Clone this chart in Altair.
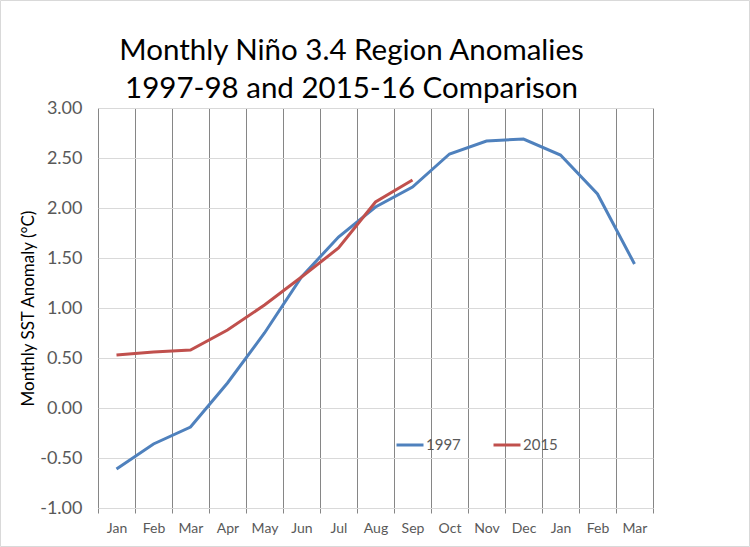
import altair as alt
import pandas as pd

months = ["Jan", "Feb", "Mar", "Apr", "May", "Jun", "Jul", "Aug", "Sep",
          "Oct", "Nov", "Dec", "Jan", "Feb", "Mar"]
series_names = ["1997", "2015"]
values_1997 = [-0.61, -0.36, -0.19, 0.25, 0.75, 1.31, 1.71, 2.01, 2.21,
               2.54, 2.67, 2.69, 2.53, 2.14, 1.44]
values_2015 = [0.53, 0.56, 0.58, 0.78, 1.03, 1.31, 1.60, 2.06, 2.28]
y_ticks = [-1.0, -0.5, 0.0, 0.5, 1.0, 1.5, 2.0, 2.5, 3.0]

rows = []
for name, vals in zip(series_names, [values_1997, values_2015]):
    for i, v in enumerate(vals):
        rows.append({"pos": i + 0.5, "month": months[i], "value": v, "series": name})
df = pd.DataFrame(rows)

label_expr = "[" + ",".join("'%s'" % m for m in months) + ",''][datum.value]"
y_label_expr = "replace(format(datum.value, '.2f'), '\u2212', '-')"
FONT = "Lato"

lines = alt.Chart(df).mark_line(strokeWidth=3).encode(
    x=alt.X(
        "pos:Q",
        scale=alt.Scale(domain=[0, len(months)], nice=False, zero=False),
        axis=alt.Axis(
            values=list(range(len(months) + 1)),
            labelExpr=label_expr,
            labelOffset=18.5,
            labelAngle=0,
            labelFlush=False,
            labelOverlap=False,
            grid=True,
            gridColor="#868686",
            gridWidth=1,
            tickColor="#868686",
            tickSize=5,
            domainColor="#D9D9D9",
            labelColor="#595959",
            labelFont=FONT,
            labelFontSize=14,
            labelPadding=8,
            title=None,
        ),
    ),
    y=alt.Y(
        "value:Q",
        scale=alt.Scale(domain=[-1, 3], nice=False),
        axis=alt.Axis(
            values=y_ticks,
            labelExpr=y_label_expr,
            grid=True,
            gridColor="#D9D9D9",
            domain=False,
            ticks=False,
            labelPadding=16,
            labelColor="#595959",
            labelFont=FONT,
            labelFontSize=18,
            title="Monthly SST Anomaly (°C)",
            titleFont=FONT,
            titleFontSize=17,
            titleFontWeight="normal",
            titleColor="#000000",
            titlePadding=2,
        ),
    ),
    color=alt.Color(
        "series:N",
        scale=alt.Scale(domain=series_names, range=["#4F81BD", "#C0504D"]),
        legend=alt.Legend(
            title=None,
            orient="none",
            legendX=297,
            legendY=322,
            direction="horizontal",
            symbolType="stroke",
            symbolSize=729,
            symbolStrokeWidth=3,
            labelFont=FONT,
            labelFontSize=15,
            labelColor="#595959",
            labelOffset=1,
            columnPadding=26,
            padding=0,
        ),
    ),
)

border = alt.Chart(alt.Data(values=[{}])).mark_rect(
    fill=None, stroke="#D9D9D9", strokeWidth=1
).encode(
    x=alt.value(-97.5), x2=alt.value(651.5),
    y=alt.value(-107.5), y2=alt.value(438.5),
)

chart = alt.layer(lines, border).properties(
    width=555,
    height=400,
    title=alt.TitleParams(
        ["Monthly Niño 3.4 Region Anomalies", "1997-98 and 2015-16 Comparison"],
        font=FONT,
        fontSize=29.5,
        fontWeight="normal",
        color="#000000",
        anchor="middle",
        frame="group",
        dx=-24,
        offset=-104.5,
        lineHeight=38,
    ),
    autosize=alt.AutoSizeParams(type="none"),
    padding={"left": 98, "top": 108, "right": 97, "bottom": 39},
).configure_view(stroke=None).configure(background="white")

chart.save("out.html", embed_options={"renderer": "svg", "actions": False})
